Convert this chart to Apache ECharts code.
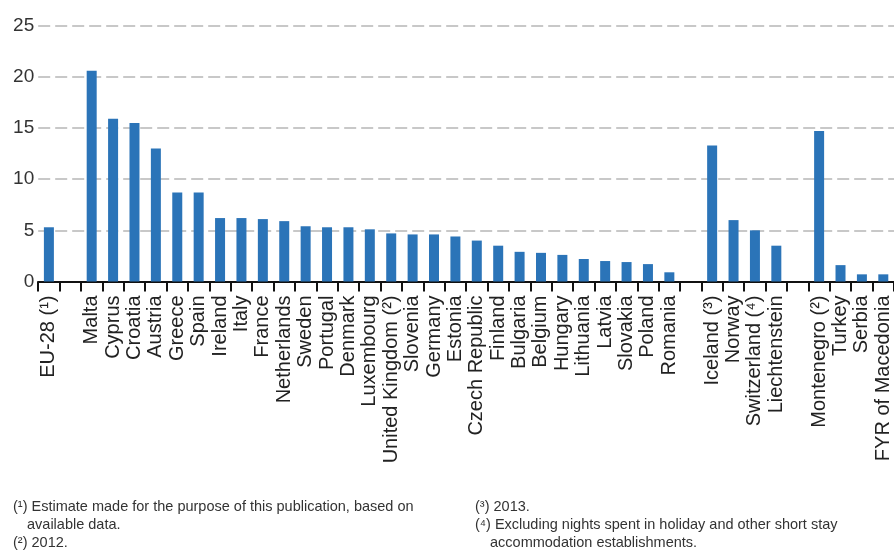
<!DOCTYPE html>
<html><head><meta charset="utf-8">
<script src="https://cdn.jsdelivr.net/npm/echarts@6/dist/echarts.min.js"></script>
<style>html,body{margin:0;padding:0;background:#fff;overflow:hidden}#c{width:894px;height:551px}</style>
</head><body><div id="c"></div>
<script>
const categories = ['EU-28 (¹)','','Malta','Cyprus','Croatia','Austria','Greece','Spain','Ireland','Italy','France','Netherlands','Sweden','Portugal','Denmark','Luxembourg','United Kingdom (²)','Slovenia','Germany','Estonia','Czech Republic','Finland','Bulgaria','Belgium','Hungary','Lithuania','Latvia','Slovakia','Poland','Romania','','Iceland (³)','Norway','Switzerland (⁴)','Liechtenstein','','Montenegro (²)','Turkey','Serbia','FYR of Macedonia'];
const values = [5.3,null,20.6,15.9,15.5,13.0,8.7,8.7,6.2,6.2,6.1,5.9,5.4,5.3,5.3,5.1,4.7,4.6,4.6,4.4,4.0,3.5,2.9,2.8,2.6,2.2,2.0,1.9,1.7,0.9,null,13.3,6.0,5.0,3.5,null,14.7,1.6,0.7,0.7];
const yMin = 0, yMax = 25, yStep = 5;
const footnotesLeft = ['(¹) Estimate made for the purpose of this publication, based on','available data.','(²) 2012.'];
const footnotesRight = ['(³) 2013.','(⁴) Excluding nights spent in holiday and other short stay','accommodation establishments.'];

const chart = echarts.init(document.getElementById('c'));
const fnFont = '14.5px "Liberation Sans Narrow", "Liberation Sans", Arial, sans-serif';
const lineY = [507, 525, 543];
const graphics = [];
footnotesLeft.forEach((t,i)=>graphics.push({type:'text',style:{text:t,x:(i===1?27:13),y:lineY[i],fill:'#333',font:fnFont,verticalAlign:'middle'}}));
footnotesRight.forEach((t,i)=>graphics.push({type:'text',style:{text:t,x:(i===2?490:475),y:lineY[i],fill:'#333',font:fnFont,verticalAlign:'middle'}}));

chart.setOption({
  animation:false,
  backgroundColor:'#fff',
  grid:{left:38.2, top:25.7, width:861.3, height:255.8, containLabel:false},
  xAxis:{
    type:'category', data:categories,
    axisLine:{show:true, lineStyle:{color:'#111', width:2}},
    axisTick:{show:true, interval:0, length:10, lineStyle:{color:'#111', width:2}},
    axisLabel:{interval:0, rotate:90, margin:14, color:'#222', fontSize:20, fontFamily:'"Liberation Sans", Arial, sans-serif'},
    splitLine:{show:false}
  },
  yAxis:{
    type:'value', min:yMin, max:yMax, interval:yStep,
    axisLine:{show:false}, axisTick:{show:false},
    axisLabel:{margin:4, color:'#333', fontSize:19, fontFamily:'"Liberation Sans", Arial, sans-serif'},
    splitLine:{show:true, lineStyle:{color:'#c8c8c8', width:2, type:[12,5]}}
  },
  series:[{type:'bar', data:values, barWidth:10, itemStyle:{color:'#2b74b8'}}],
  graphic:graphics
});
</script></body></html>
